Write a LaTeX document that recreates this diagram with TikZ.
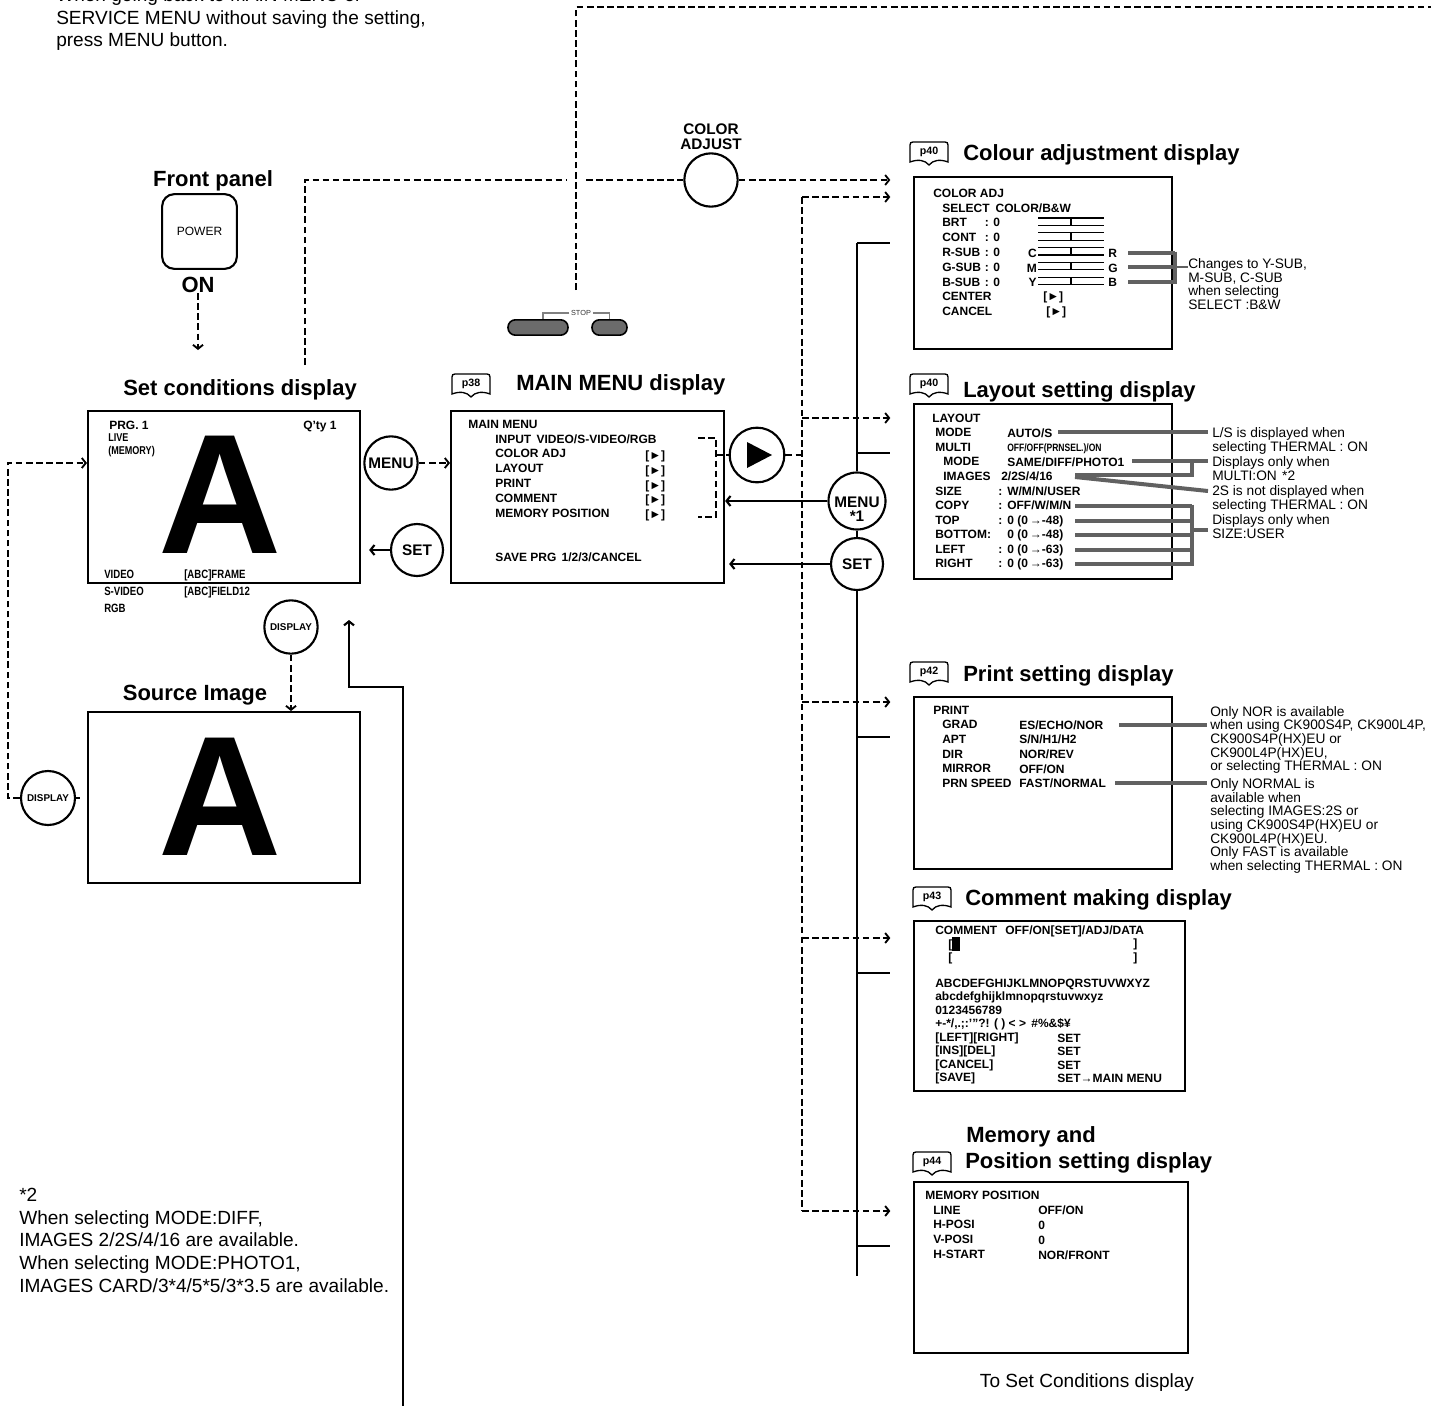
\documentclass[tikz,border=0pt]{standalone}
\usepackage{fontspec}
\setmainfont{Liberation Sans}
\newfontfamily\condfont[FakeStretch=0.8]{Liberation Sans}
\usetikzlibrary{arrows.meta,positioning,calc}

\definecolor{brkgray}{gray}{0.38}
\definecolor{pillgray}{gray}{0.42}

\newcommand\headfont{\fontsize{16.5}{18}\selectfont\bfseries}
\newcommand\btnfont{\fontsize{11.5}{11}\selectfont\bfseries}
\newcommand\notefont{\fontsize{14.3}{17}\selectfont}
\newcommand\smallnote{\fontsize{10.3}{10.2}\selectfont}

\begin{document}
\begin{tikzpicture}[x=0.75pt, y=-0.75pt,
    screen/.style={draw, line width=1.6pt, anchor=north west, inner sep=0pt},
    btn/.style={circle, draw, line width=1.6pt, fill=white, inner sep=0pt, font=\btnfont},
    head/.style={font=\headfont, inner sep=0pt},
    txt/.style={anchor=north west, inner sep=0pt, align=left, font=\fontsize{9}{11.1}\selectfont\bfseries},
    ctxt/.style={anchor=north west, inner sep=0pt, align=left, font=\fontsize{9}{13}\selectfont\condfont\bfseries},
    note/.style={anchor=north west, inner sep=0pt, align=left, font=\notefont},
    snote/.style={anchor=north west, inner sep=0pt, align=left, font=\smallnote},
    bigA/.style={inner sep=0pt, font=\fontsize{128}{128}\selectfont\bfseries},
    dsh/.style={line width=1.4pt, dash pattern=on 5pt off 2.6pt},
    darr/.style={dsh, -{Straight Barb[length=3pt,width=7.5pt]}},
    sarr/.style={line width=1.6pt, -{Straight Barb[length=3pt,width=7.5pt]}},
    conn/.style={line width=1.6pt},
    gline/.style={line width=3pt, brkgray},
    inarr/.style={shorten >=17pt},
    pill/.style={draw, line width=1.2pt, fill=pillgray, rounded corners=5.5pt, inner sep=0pt, minimum height=11.5pt},
    book/.pic={
      \draw[line width=1pt, fill=white] (0,20) -- (0,3) .. controls (0,1) and (1,0) .. (3,0) -- (35,0)
        .. controls (37,0) and (38,1) .. (38,3) -- (38,20) .. controls (30,17) and (23,18) .. (19,23)
        .. controls (15,18) and (8,17) .. (0,20) -- cycle;
      \node[inner sep=0pt, font=\fontsize{8}{8}\selectfont\bfseries] (-t) at (19,10) {\tikzpictext};
    }
]
\clip (0,0) rectangle (1431,1406);

% notes
\node[note] (topnote) at (56,-12.6) {When going back to MAIN MENU or\\SERVICE MENU without saving the setting,\\press MENU button.};
\node[note] (starnote) at (19,1188) {*2\\When selecting MODE:DIFF,\\IMAGES 2/2S/4/16 are available.\\When selecting MODE:PHOTO1,\\IMAGES CARD/3*4/5*5/3*3.5 are available.};
\node[font=\notefont, inner sep=0pt] (toset) at (1087,1383) {To Set Conditions display};

% front panel
\node[head] (fp) at (213,181) {Front panel};
\node[draw, line width=1.6pt, rounded corners=9pt, minimum size=56pt, inner sep=0pt, font=\fontsize{9}{9}\selectfont] (power) at (199.5,231.5) {POWER};
\node[head] (on) at (198,285) {ON};
\coordinate (onend) at (198,350);
\draw[darr] (on.south) -- (onend);

% set conditions display
\node[head] (sch) at (240,390) {Set conditions display};
\node[screen, minimum width=204pt, minimum height=129pt] (setc) at (87,410) {};
\node[bigA] (biga1) at (220,495) {A};
\node[txt] (prg) at (109,420.7) {PRG. 1};
\node[txt] (qty) at (303,420.7) {Q'ty 1};
\node[ctxt, font=\fontsize{8.5}{9.8}\selectfont\condfont\bfseries] (live) at (108,433.5) {LIVE\\(MEMORY)};
\node[ctxt] (insrc) at (104,569.5) {VIDEO\\S-VIDEO\\RGB};
\node[ctxt] (infmt) at (184,569.5) {{[ABC]FRAME}\\{[ABC]FIELD12}};

\node[btn, minimum size=40pt] (menu) at (391,463) {MENU};
\node[btn, minimum size=39pt] (set) at (417,550) {SET};
\node[btn, minimum size=40pt, font=\fontsize{7.4}{7.4}\selectfont\bfseries] (disp) at (291,627) {DISPLAY};

% source image
\node[head] (srch) at (195,695) {Source Image};
\node[screen, minimum width=204pt, minimum height=128.25pt] (srcimg) at (87,711) {};
\node[bigA] (biga2) at (220,797) {A};
\node[btn, minimum size=40.5pt, font=\fontsize{7.4}{7.4}\selectfont\bfseries] (disp2) at (48,798) {DISPLAY};
\coordinate (lft) at (8,463);
\draw[darr] (disp2.west) -| (lft) -- (setc.west |- lft);
\draw[dsh] (disp2.east) -- ++(4,0);
\draw[darr] (disp) -- (disp |- srcimg.north);

% return line
\coordinate (retbot) at (403,1410);
\coordinate (retcorner) at (349,687);
\coordinate (retup) at (349,620);
\draw[sarr] (retbot) |- (retcorner) -- (retup);

% main menu display
\pic[pic text=p38] (bk38) at (452,374) {book};
\node[head, anchor=west] (mmh) at (516,385) {MAIN MENU display};
\node[screen, minimum width=204.75pt, minimum height=129pt] (mainm) at (450,410) {};
\node[txt] (mmtxt) at (468,419.7) {MAIN MENU\\
  \hspace*{20.25pt}INPUT\hspace{4pt}VIDEO/S-VIDEO/RGB\\
  \hspace*{20.25pt}COLOR ADJ\\
  \hspace*{20.25pt}LAYOUT\\
  \hspace*{20.25pt}PRINT\\
  \hspace*{20.25pt}COMMENT\\
  \hspace*{20.25pt}MEMORY POSITION};
\node[txt] (mmsel) at (645,450.5) {{[►]}\\{[►]}\\{[►]}\\{[►]}\\{[►]}};
\node[txt] (mmsave) at (495,552.7) {SAVE PRG\hspace{4pt}1/2/3/CANCEL};

\draw[darr] (menu.east) -- (mainm.west |- menu.east);
\draw[sarr, shorten >=6pt] (set.west) -- (setc.east |- set.west);

% stop keys and colour adjust key
\node[btn, minimum size=40pt] (cadj) at (711,180) {};
\node[font=\btnfont, align=center, inner sep=0pt, above=2pt of cadj] (cadjl) {COLOR\\ADJUST};
\node[pill, minimum width=45pt] (stop1) at (538,327.5) {};
\node[pill, minimum width=26.25pt] (stop2) at (609.5,327.5) {};
\node[font=\fontsize{5.5}{5.5}\selectfont, inner sep=1pt, text=black!80] (stopl) at (581,313) {STOP};
\draw[gray, line width=1pt] (stopl.west) -| ($(stop1.north)+(5,0)$);
\draw[gray, line width=1pt] (stopl.east) -| (stop2.north);

\coordinate (scup) at (305,365);
\draw[dsh] (scup) |- (cadj.west);
\coordinate (stoptop) at (576,290);
\coordinate (topright) at (1440,7);
\draw[dsh, preaction={draw, white, solid, line width=14pt}] (stoptop) |- (topright);

% play key and bracket
\node[btn, minimum size=41pt] (play) at (757,455) {};
\fill (play.center) ++(-10,-13) -- ++(0,26) -- ++(25,-13) -- cycle;
\coordinate (brt) at (698,438);
\coordinate (brb) at (698,517);
\coordinate (brx) at (716,455);
\draw[dsh] (brt) -| (brx) |- (brb);
\draw[dsh] (brx) -- (play.west);

% menu / set keys on the right
\node[btn, minimum size=42.75pt] (menu1) at (857,501) {};
\node[font=\fontsize{11.5}{10.5}\selectfont\bfseries, align=center, inner sep=0pt] (menu1l) at ([yshift=-6pt]menu1.center) {MENU\\*1};
\node[btn, minimum size=39pt] (set2) at (857,564) {SET};
\draw[sarr] (menu1.west) -- (mainm.east |- menu1.west);
\draw[sarr, shorten >=3pt] (set2.west) -- (mainm.east |- set2.west);

% colour adjustment display
\pic[pic text=p40] (bkc) at (910,142) {book};
\node[head, anchor=west] (colh) at (963,155) {Colour adjustment display};
\node[screen, minimum width=193.5pt, minimum height=129pt] (colbox) at (913,176) {};
\node[txt] (coltxt) at (933,188.7) {COLOR ADJ\\
  \hspace*{6.75pt}\makebox[40pt][l]{SELECT}COLOR/B\&W\\
  \hspace*{6.75pt}\makebox[32pt][l]{BRT}: 0\\
  \hspace*{6.75pt}\makebox[32pt][l]{CONT}: 0\\
  \hspace*{6.75pt}\makebox[32pt][l]{R-SUB}: 0\\
  \hspace*{6.75pt}\makebox[32pt][l]{G-SUB}: 0\\
  \hspace*{6.75pt}\makebox[32pt][l]{B-SUB}: 0\\
  \hspace*{6.75pt}CENTER\\
  \hspace*{6.75pt}CANCEL};
\node[txt, anchor=north east, align=right] (cmy) at (1037,248.7) {C\\M\\Y};
\node[txt] (rgb) at (1108,248.7) {R\\G\\B};
\node[txt] (colsel) at (1043,291.7) {{[►]}\\\hspace*{2.25pt}[►]};
\foreach \r in {0,...,4} {
  \draw[line width=1pt] (1038,{218+14.8*\r}) -- (1104,{218+14.8*\r});
  \draw[line width=1pt] (1038,{225.4+14.8*\r}) -- (1104,{225.4+14.8*\r});
  \draw[line width=2.2pt] (1071,{218+14.8*\r}) -- (1071,{225.4+14.8*\r});
}
\node[snote] (colnote) at (1188,258.5) {Changes to Y-SUB,\\M-SUB, C-SUB\\when selecting\\SELECT :B\&W};
\foreach \y in {253,267,282} \draw[gline] (1128,\y) -- (1175,\y);
\draw[gline] (1175,251.5) -- (1175,283.5);
\draw[line width=1.2pt, brkgray] (1175,267) -- (colnote.west |- 1175,267);

% layout setting display
\pic[pic text=p40] (bkl) at (910,374) {book};
\node[head, anchor=west] (layh) at (963,392) {Layout setting display};
\node[screen, minimum width=193.5pt, minimum height=131.25pt] (lay) at (913,403) {};
\node[txt, font=\fontsize{9}{10.9}\selectfont\bfseries] (laytxt) at (932,413.7) {LAYOUT\\
  \hspace*{2.25pt}MODE\\
  \hspace*{2.25pt}MULTI\\
  \hspace*{8.25pt}MODE\\
  \hspace*{8.25pt}IMAGES\\
  \hspace*{2.25pt}SIZE\\
  \hspace*{2.25pt}COPY\\
  \hspace*{2.25pt}TOP\\
  \hspace*{2.25pt}BOTTOM:\\
  \hspace*{2.25pt}LEFT\\
  \hspace*{2.25pt}RIGHT};
\node[txt, font=\fontsize{9}{10.9}\selectfont\bfseries] (layval) at (998,428.2) {\hspace*{6.75pt}AUTO/S\\
  \hspace*{6.75pt}{\condfont\fontsize{8}{10.9}\selectfont OFF/OFF(PRNSEL.)/ON}\\
  \hspace*{6.75pt}SAME/DIFF/PHOTO1\\
  \hspace*{2.25pt}2/2S/4/16\\
  \makebox[6.75pt][l]{:}W/M/N/USER\\
  \makebox[6.75pt][l]{:}OFF/W/M/N\\
  \makebox[6.75pt][l]{:}0 (0\,→-48)\\
  \hspace*{6.75pt}0 (0\,→-48)\\
  \makebox[6.75pt][l]{:}0 (0\,→-63)\\
  \makebox[6.75pt][l]{:}0 (0\,→-63)};
\node[snote] (laynote1) at (1212,427.5) {L/S is displayed when\\selecting THERMAL : ON};
\node[snote] (laynote2) at (1212,456.5) {Displays only when\\MULTI:ON\hspace{4pt}*2};
\node[snote] (laynote3) at (1212,485.5) {2S is not displayed when\\selecting THERMAL : ON};
\node[snote] (laynote4) at (1212,514.5) {Displays only when\\SIZE:USER};
\draw[gline] (1058,432) -- (1208,432);
\draw[gline] (1132,461) -- (1208,461);
\draw[gline] (1192,461) -- (1192,475) -- (1075,475);
\draw[gline] (1075,477) -- (1208,491);
\foreach \y in {506,520.5,535,549.5,564} \draw[gline] (1075,\y) -- (1192,\y);
\draw[gline] (1192,504.5) -- (1192,565.5);
\draw[gline] (1192,530) -- (1208,530);

% print setting display
\pic[pic text=p42] (bkp) at (910,662) {book};
\node[head, anchor=west] (prnh) at (963,676) {Print setting display};
\node[screen, minimum width=193.5pt, minimum height=129pt] (prn) at (913,696) {};
\node[txt, font=\fontsize{9}{10.95}\selectfont\bfseries] (prntxt) at (933,705.7) {PRINT\\
  \hspace*{6.75pt}GRAD\\
  \hspace*{6.75pt}APT\\
  \hspace*{6.75pt}DIR\\
  \hspace*{6.75pt}MIRROR\\
  \hspace*{6.75pt}PRN SPEED};
\node[txt, font=\fontsize{9}{10.95}\selectfont\bfseries] (prnval) at (1019,720.3) {ES/ECHO/NOR\\S/N/H1/H2\\NOR/REV\\OFF/ON\\FAST/NORMAL};
\node[snote] (prnnote1) at (1210,706) {Only NOR is available\\when using CK900S4P, CK900L4P,\\CK900S4P(HX)EU or\\CK900L4P(HX)EU,\\or selecting THERMAL : ON};
\node[snote] (prnnote2) at (1210,778.5) {Only NORMAL is\\available when\\selecting IMAGES:2S or\\using CK900S4P(HX)EU or\\CK900L4P(HX)EU.\\Only FAST is available\\when selecting THERMAL : ON};
\draw[gline] (1119,725) -- (1207,725);
\draw[gline] (1115,783) -- (1207,783);

% comment making display
\pic[pic text=p43] (bkm) at (913,887) {book};
\node[head, anchor=west] (cmth) at (965,900) {Comment making display};
\node[screen, minimum width=203.25pt, minimum height=127.5pt] (cmt) at (913,920) {};
\node[txt, font=\fontsize{9}{10.1}\selectfont\bfseries] (cmttop) at (935,925.7) {COMMENT\hspace{6pt}OFF/ON[SET]/ADJ/DATA\\
  \hspace*{9.75pt}[\\
  \hspace*{9.75pt}[};
\node[txt, font=\fontsize{9}{10.1}\selectfont\bfseries] (cmtend) at (1133,938.7) {]\\]};
\node[fill, minimum width=6pt, minimum height=10.5pt, inner sep=0pt] (cursor) at (956,944) {};
\node[txt, font=\fontsize{9}{10.1}\selectfont\bfseries] (cmtchr) at (935,978.7) {ABCDEFGHIJKLMNOPQRSTUVWXYZ\\
  abcdefghijklmnopqrstuvwxyz\\
  0123456789\\
  +-*/,.;:'"?! ( ) < >\hspace{4pt}\#\%\&\$¥\\
  {[LEFT][RIGHT]}\\
  {[INS][DEL]}\\
  {[CANCEL]}\\
  {[SAVE]}};
\node[txt, font=\fontsize{9}{10.1}\selectfont\bfseries] (cmtset) at (1057,1033.7) {SET\\SET\\SET\\SET→MAIN MENU};

% memory and position setting display
\node[head, anchor=west] (memh1) at (966,1137) {Memory and};
\pic[pic text=p44] (bkmem) at (913,1152) {book};
\node[head, anchor=west] (memh2) at (965,1163) {Position setting display};
\node[screen, minimum width=205.5pt, minimum height=128.25pt] (mem) at (913,1181) {};
\node[txt] (memtxt) at (925,1190.7) {MEMORY POSITION\\
  \hspace*{6pt}LINE\\
  \hspace*{6pt}H-POSI\\
  \hspace*{6pt}V-POSI\\
  \hspace*{6pt}H-START};
\node[txt] (memval) at (1038,1205.7) {OFF/ON\\0\\0\\NOR/FRONT};

% dashed routes to the sub menus
\draw[darr, inarr] (cadj.east) -- (colbox.west |- cadj.east);
\foreach \y [count=\i] in {197,418,702,938,1211} \coordinate (dj\i) at (802,\y);
\draw[dsh] (play.east) -- (play.east -| dj1);
\draw[dsh] (dj1) -- (dj5);
\draw[darr, inarr] (dj1) -- (colbox.west |- dj1);
\draw[darr, inarr] (dj2) -- (lay.west |- dj2);
\draw[darr, inarr] (dj3) -- (prn.west |- dj3);
\draw[darr, inarr] (dj4) -- (cmt.west |- dj4);
\draw[darr, inarr] (dj5) -- (mem.west |- dj5);

% solid return routes
\foreach \y [count=\i] in {243,453,737,973,1246} \coordinate (sj\i) at (857,\y);
\coordinate (sbot) at (857,1276);
\draw[conn] (sj1) -- (menu1.north);
\draw[conn] (menu1.south) -- (set2.north);
\draw[conn] (set2.south) -- (sbot);
\draw[conn, inarr] (sj1) -- (colbox.west |- sj1);
\draw[conn, inarr] (sj2) -- (lay.west |- sj2);
\draw[conn, inarr] (sj3) -- (prn.west |- sj3);
\draw[conn, inarr] (sj4) -- (cmt.west |- sj4);
\draw[conn, inarr] (sj5) -- (mem.west |- sj5);
\end{tikzpicture}
\end{document}
